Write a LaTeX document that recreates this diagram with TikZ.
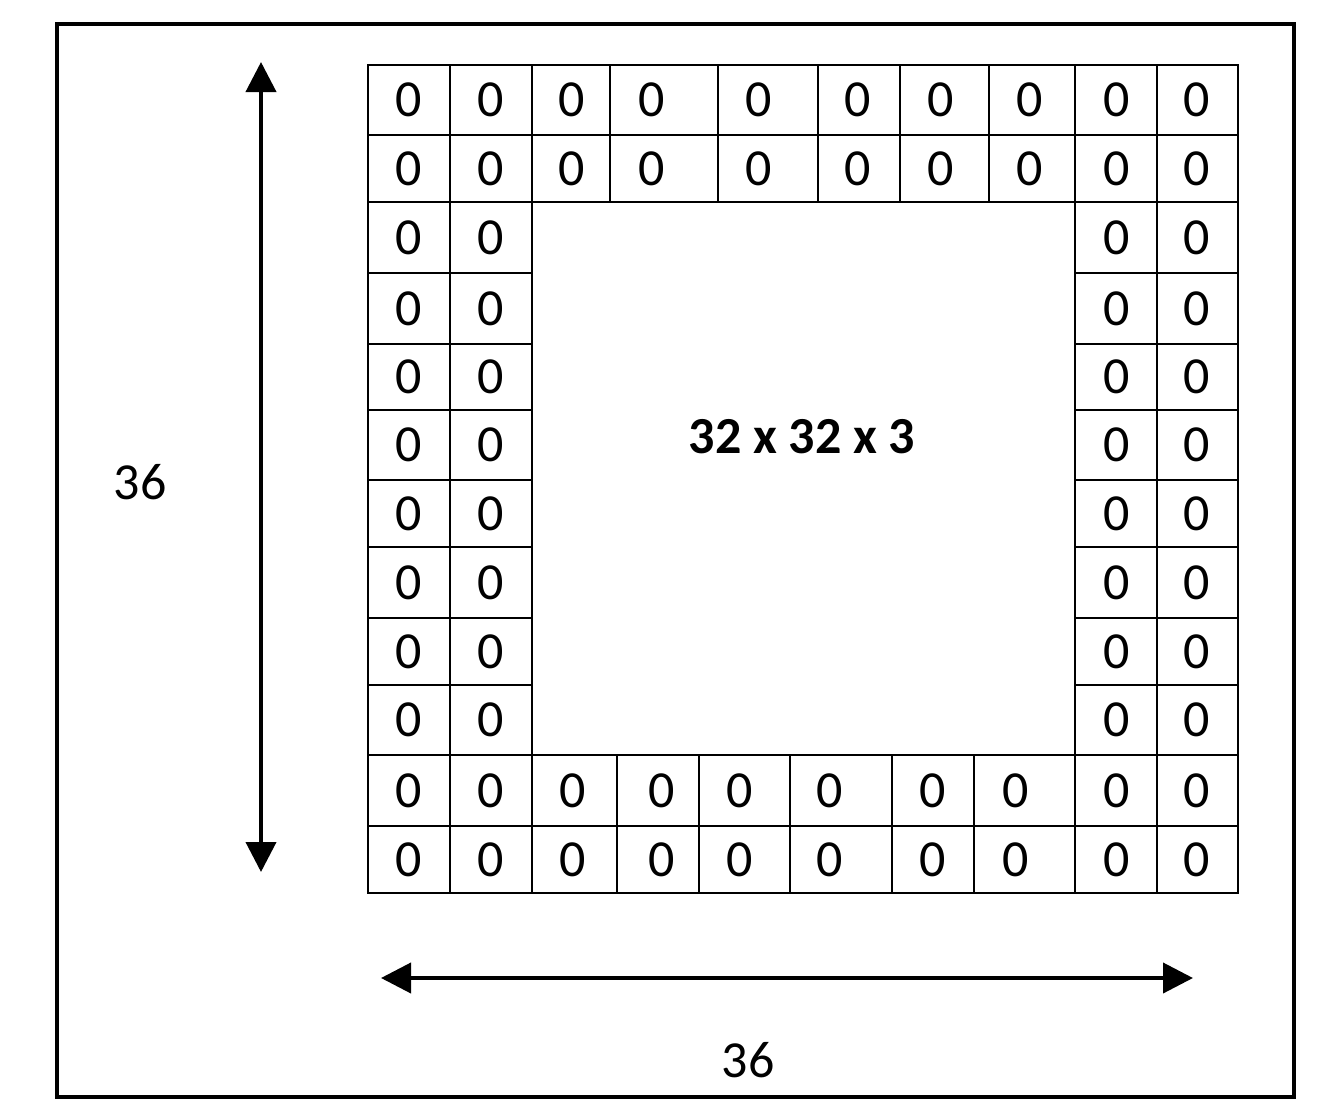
\documentclass[tikz,border=0pt]{standalone}
\usepackage{fontspec}
\setmainfont{Carlito}
\usetikzlibrary{arrows.meta}

\begin{document}
\begin{tikzpicture}[x=0.5pt,y=-0.5pt,>={Triangle[length=15pt,width=15pt]},
    cell/.style={line width=1.4pt},
    zero/.style={font=\fontsize{26}{30}\selectfont,inner sep=0pt},
    dimlabel/.style={font=\fontsize{26}{30}\selectfont},
    dimline/.style={<->,line width=2pt},
    frame/.style={line width=2.2pt}]
    \useasboundingbox (0,0) rectangle (1318,1108);
    % The frame round the whole figure.
    \draw[frame] (57,24) rectangle (1294,1097);

    % The two padding rows on top (left/right/zero x).
    \foreach \xa/\xb/\xt [count=\col] in {368/450/409, 450/532/491, 532/610/572,
        610/718/652, 718/818/759, 818/900/858, 900/989/941, 989/1075/1030,
        1075/1157/1117, 1157/1238/1197}
      \foreach \ya/\yb [count=\row] in {65/135, 135/202} {
        \draw[cell] (\xa,\ya) rectangle (\xb,\yb);
        \node[zero] (top-\row-\col) at (\xt,{(\ya+\yb)/2}) {0};
      }

    % The two padding rows at the bottom.
    \foreach \xa/\xb/\xt [count=\col] in {368/450/409, 450/532/491, 532/617/573,
        617/699/662, 699/790/740, 790/892/830, 892/974/933, 974/1075/1016,
        1075/1157/1117, 1157/1238/1197}
      \foreach \ya/\yb [count=\row] in {755/826, 826/893} {
        \draw[cell] (\xa,\ya) rectangle (\xb,\yb);
        \node[zero] (bot-\row-\col) at (\xt,{(\ya+\yb)/2}) {0};
      }

    % The two padding columns on either side.
    \foreach \xa/\xb/\xt [count=\col] in {368/450/409, 450/532/491,
        1075/1157/1117, 1157/1238/1197}
      \foreach \ya/\yb [count=\row] in {202/273, 273/344, 344/410, 410/480,
          480/547, 547/618, 618/685, 685/755} {
        \draw[cell] (\xa,\ya) rectangle (\xb,\yb);
        \node[zero] (side-\row-\col) at (\xt,{(\ya+\yb)/2}) {0};
      }

    % The image itself.
    \node[dimlabel,font=\fontsize{26}{30}\selectfont\bfseries] (image) at (802,437) {32 x 32 x 3};

    % The two size arrows and their labels.
    \coordinate (vtop) at (261,62);
    \coordinate (vbot) at (261,872);
    \coordinate (hleft) at (381,978);
    \coordinate (hright) at (1193,978);
    \draw[dimline] (vtop) -- (vbot);
    \draw[dimline] (hleft) -- (hright);
    \node[dimlabel] (height) at (140,482) {36};
    \node[dimlabel] (width) at (748,1060) {36};
  \end{tikzpicture}
\end{document}
